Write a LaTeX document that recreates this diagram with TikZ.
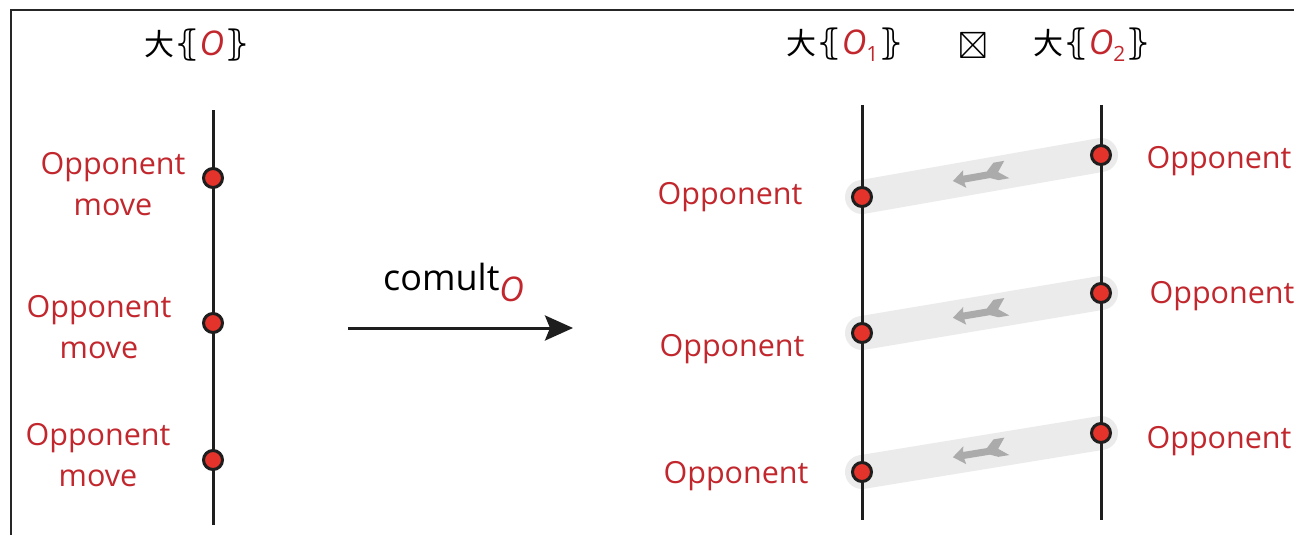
\documentclass[tikz,border=0pt]{standalone}
\usepackage{fontspec}
\usepackage{amssymb}
\setmainfont{Open Sans}
\newfontfamily\cjk{Noto Sans CJK SC}
\newfontfamily\symf{DejaVu Sans}
\usetikzlibrary{arrows.meta,calc}
\definecolor{oppred}{HTML}{C1272D}
\definecolor{dotred}{HTML}{E3332A}
\definecolor{bandgray}{HTML}{EBEBEB}
\definecolor{arrgray}{HTML}{ABABAB}
\definecolor{ink}{HTML}{1E1E1E}
\newcommand{\redO}{\textcolor{oppred}{\textit{O}}}
\newcommand{\bigO}{\textcolor{oppred}{\fontsize{34}{34}\selectfont\textit{O}}}
\newcommand{\bunch}[1]{{\cjk 大}{\symf\fontsize{35}{35}\selectfont ⦃}#1{\symf\fontsize{35}{35}\selectfont ⦄}}
\newcommand{\idx}[1]{\textcolor{oppred}{\raisebox{-7pt}{\fontsize{21}{21}\selectfont #1}}}
\tikzset{
  lbl/.style={text=oppred, font=\fontsize{30.5}{41}\selectfont, align=center, inner sep=0pt},
  ttl/.style={font=\fontsize{30}{32}\selectfont, inner sep=0pt},
  dotnode/.style={circle, fill=dotred, draw=ink, line width=3pt, minimum size=19pt, inner sep=0pt},
  timeline/.style={draw=ink, line width=3pt},
  band/.style={draw=bandgray, line width=34pt, line cap=round},
  frame/.style={draw=black!85, line width=2.2pt},
}
% small fletched arrow pointing backwards along a band
\newcommand{\backarrow}[2]{%
  \begin{scope}[shift={(#1)}, rotate=#2]
    \fill[arrgray] (-29pt,0pt) -- (-17pt,9pt) -- (-18pt,3.5pt) -- (6pt,3.5pt) -- (14pt,11pt)
      -- (25pt,11pt) -- (17pt,1pt) -- (27pt,-7pt) -- (16pt,-7pt) -- (8pt,-3.5pt)
      -- (-18pt,-3.5pt) -- (-17pt,-9pt) -- cycle;
  \end{scope}}
\begin{document}
\begin{tikzpicture}[x=1pt, y=-1pt]
  \useasboundingbox (0,0) rectangle (1294,535);
  \draw[frame] (11,535) -- (11,10) -- (1294,10);

  % ---- left: a single strategy ----
  \node[ttl] (tl) at (197,45) {\bunch{\bigO}};
  \coordinate (ltop) at (213,110);
  \coordinate (lbot) at (213,525);
  \draw[timeline] (ltop) -- (lbot);
  \node[dotnode] (l1) at (213,178) {};
  \node[dotnode] (l2) at (213,323) {};
  \node[dotnode] (l3) at (213,460) {};
  \node[lbl] (ll1) at (113,184) {Opponent\\move};
  \node[lbl] (ll2) at (99,327) {Opponent\\move};
  \node[lbl] (ll3) at (98,455) {Opponent\\move};

  % ---- the map ----
  \coordinate (as) at (348,328);
  \coordinate (ae) at (573,328);
  \draw[draw=ink, line width=3pt, -{Stealth[length=28pt, width=25pt, inset=5pt]}] (as) -- (ae);
  \node[font=\fontsize{36}{38}\selectfont, anchor=base west, inner sep=0pt] (cm) at (383,290)
    {comult\raisebox{-11pt}{\fontsize{34}{34}\selectfont\redO}};

  % ---- right: the tensor of two strategies ----
  \node[ttl] (t1) at (845,45) {\bunch{\bigO\idx{1}}};
  \node[ttl] (tx) at (973,46) {\fontsize{38}{38}\selectfont$\boxtimes$};
  \node[ttl] (t2) at (1092,45) {\bunch{\bigO\idx{2}}};

  \coordinate (atop) at (862,105);
  \coordinate (abot) at (862,520);
  \coordinate (btop) at (1101,105);
  \coordinate (bbot) at (1101,520);

  \coordinate (a1) at (862,197);
  \coordinate (a2) at (862,333);
  \coordinate (a3) at (862,472);
  \coordinate (b1) at (1101,155);
  \coordinate (b2) at (1101,293);
  \coordinate (b3) at (1101,433);

  \draw[band] (a1) -- (b1);
  \draw[band] (a2) -- (b2);
  \draw[band] (a3) -- (b3);
  \backarrow{$(a1)!0.5!(b1)$}{10}
  \backarrow{$(a2)!0.5!(b2)$}{9.5}
  \backarrow{$(a3)!0.5!(b3)$}{9.3}

  \draw[timeline] (atop) -- (abot);
  \draw[timeline] (btop) -- (bbot);

  \node[dotnode] (na1) at (a1) {};
  \node[dotnode] (na2) at (a2) {};
  \node[dotnode] (na3) at (a3) {};
  \node[dotnode] (nb1) at (b1) {};
  \node[dotnode] (nb2) at (b2) {};
  \node[dotnode] (nb3) at (b3) {};

  \node[lbl] (la1) at (730,197) {Opponent};
  \node[lbl] (la2) at (732,349) {Opponent};
  \node[lbl] (la3) at (736,476) {Opponent};
  \node[lbl] (lb1) at (1219,161) {Opponent};
  \node[lbl] (lb2) at (1222,296) {Opponent};
  \node[lbl] (lb3) at (1219,441) {Opponent};
\end{tikzpicture}
\end{document}
